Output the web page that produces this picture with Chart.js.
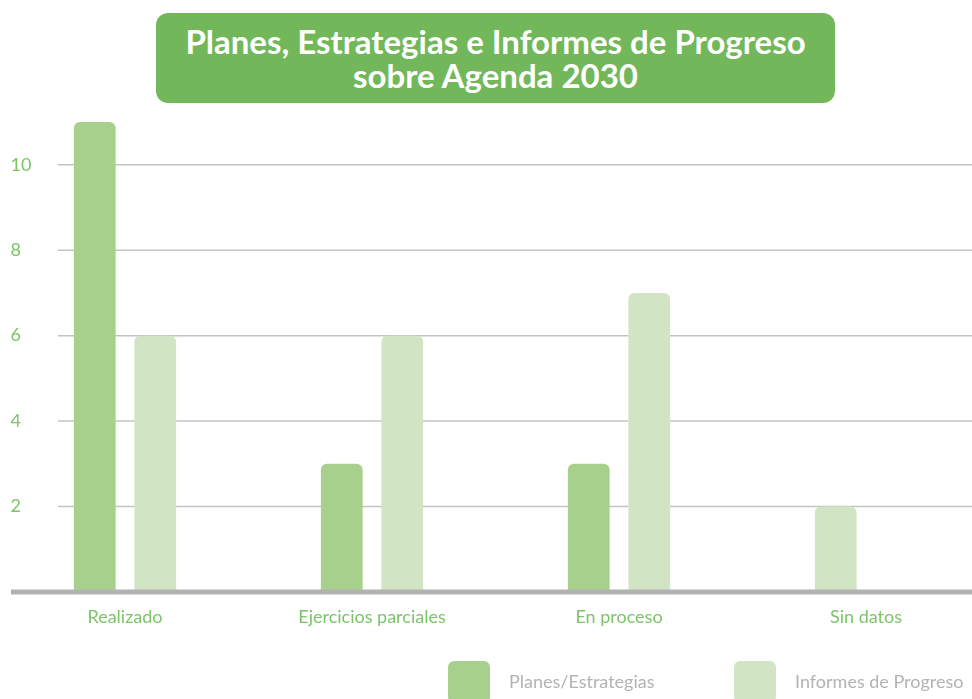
<!DOCTYPE html>
<html>
<head>
<meta charset="utf-8">
<script src="https://cdn.jsdelivr.net/npm/chart.js@4.4.0/dist/chart.umd.min.js"></script>
<style>
    html, body { margin: 0; padding: 0; background: #ffffff; overflow: hidden; }
    #wrap { position: absolute; left: 0; top: 0; width: 991px; height: 720px; }
    #title {
        position: absolute; left: 156px; top: 13px; width: 679px; height: 90px;
        background: #72b85a; border-radius: 12px; color: #ffffff;
        font-family: Lato, sans-serif; font-weight: bold; font-size: 33px;
        line-height: 34px; text-align: center; display: flex;
        align-items: center; justify-content: center;
    }
</style>
</head>
<body>
<div id="wrap">
    <canvas id="chart" width="991" height="720"></canvas>
    <div id="title">Planes, Estrategias e Informes de Progreso<br>sobre Agenda 2030</div>
</div>
<script>
// Data
const categories = ['Realizado', 'Ejercicios parciales', 'En proceso', 'Sin datos'];
const planesValues = [11, 3, 3, null];
const informesValues = [6, 6, 7, 2];
const seriesNames = ['Planes/Estrategias', 'Informes de Progreso'];
const yTicks = [2, 4, 6, 8, 10];

const darkGreen = '#a8d08d';
const lightGreen = '#d1e5c4';
const labelGreen = '#7cc46a';

// In the original, when there is no Planes bar the Informes bar sits in the first slot
const firstSlot = planesValues.map((v, i) => v === null ? informesValues[i] : v);
const firstColors = planesValues.map(v => v === null ? lightGreen : darkGreen);
const secondSlot = planesValues.map((v, i) => v === null ? null : informesValues[i]);

// Grid lines start a bit right of the y labels, and a thick base line
const gridPlugin = {
    id: 'gridPlugin',
    beforeDatasetsDraw(chart) {
        const ctx = chart.ctx;
        const y = chart.scales.y;
        const area = chart.chartArea;
        ctx.save();
        ctx.strokeStyle = '#c4c4c4';
        ctx.lineWidth = 1.5;
        yTicks.forEach(v => {
            const py = y.getPixelForValue(v);
            ctx.beginPath();
            ctx.moveTo(58, py);
            ctx.lineTo(area.right, py);
            ctx.stroke();
        });
        ctx.restore();
    },
    afterDatasetsDraw(chart) {
        const ctx = chart.ctx;
        const py = chart.scales.y.getPixelForValue(0);
        ctx.save();
        ctx.strokeStyle = '#b2b2b2';
        ctx.lineWidth = 5;
        ctx.beginPath();
        ctx.moveTo(11, py);
        ctx.lineTo(chart.chartArea.right, py);
        ctx.stroke();
        ctx.restore();
    }
};

// Legend with big rounded boxes, like the original
const legendPlugin = {
    id: 'legendPlugin',
    afterDraw(chart) {
        const ctx = chart.ctx;
        const top = chart.chartArea.bottom + 69;
        const starts = [448, 734];
        const colors = [darkGreen, lightGreen];
        ctx.save();
        ctx.font = '18px Lato, sans-serif';
        ctx.textBaseline = 'middle';
        chart.data.datasets.forEach((ds, i) => {
            const x = starts[i];
            ctx.fillStyle = colors[i];
            ctx.beginPath();
            ctx.roundRect(x, top, 42, 42, 6);
            ctx.fill();
            ctx.fillStyle = '#b3b3b3';
            ctx.fillText(ds.label, x + 61, top + 21);
        });
        ctx.restore();
    }
};

new Chart(document.getElementById('chart'), {
    type: 'bar',
    data: {
        labels: categories,
        datasets: [{
            label: seriesNames[0],
            data: firstSlot,
            backgroundColor: firstColors,
            borderRadius: { topLeft: 6, topRight: 6 },
            borderSkipped: 'bottom',
            categoryPercentage: 0.49,
            barPercentage: 0.69
        }, {
            label: seriesNames[1],
            data: secondSlot,
            backgroundColor: lightGreen,
            borderRadius: { topLeft: 6, topRight: 6 },
            borderSkipped: 'bottom',
            categoryPercentage: 0.49,
            barPercentage: 0.69
        }]
    },
    options: {
        responsive: false,
        animation: false,
        layout: { padding: { left: 1.5, right: 1.5, top: 122, bottom: 93.6 } },
        plugins: {
            legend: { display: false },
            title: { display: false },
            tooltip: { enabled: false }
        },
        scales: {
            x: {
                grid: { display: false, drawTicks: false },
                border: { display: false },
                afterFit: s => { s.height = 34.4; },
                ticks: {
                    color: labelGreen,
                    padding: 14,
                    font: { family: 'Lato, sans-serif', size: 18 }
                }
            },
            y: {
                min: 0,
                max: 11,
                grid: { display: false, drawTicks: false },
                border: { display: false },
                afterFit: s => { s.width = 0; },
                ticks: {
                    stepSize: 2,
                    mirror: true,
                    padding: 9,
                    color: labelGreen,
                    font: { family: 'Lato, sans-serif', size: 18 },
                    callback: v => yTicks.includes(v) ? v : ''
                }
            }
        }
    },
    plugins: [gridPlugin, legendPlugin]
});
</script>
</body>
</html>
